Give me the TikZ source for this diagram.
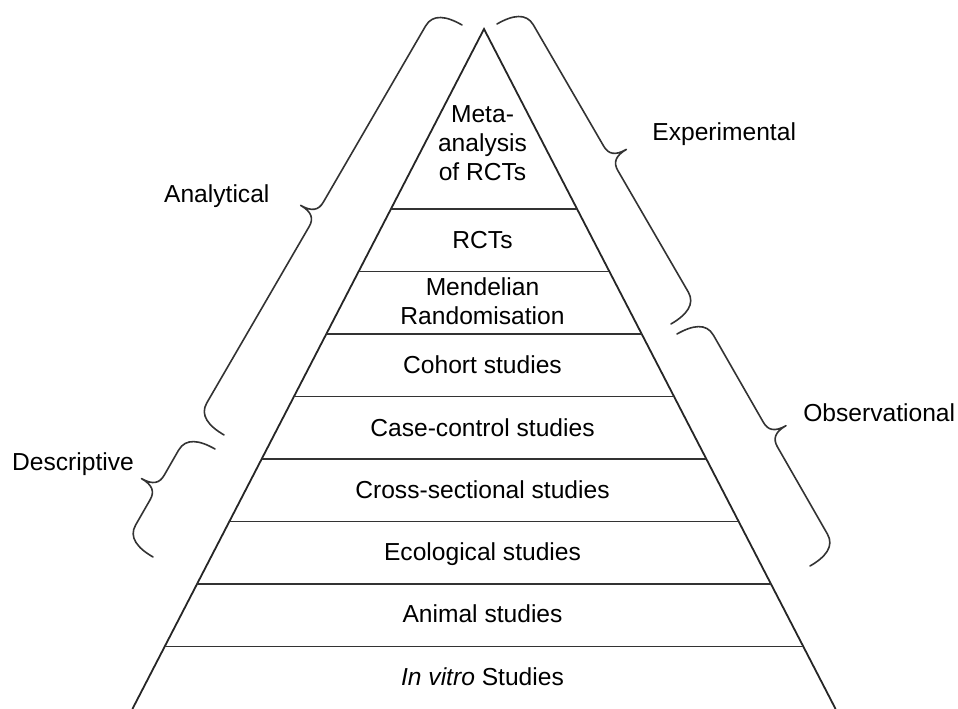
\documentclass[tikz,border=0pt]{standalone}
\usepackage{fontspec}
\setmainfont{Liberation Sans}
\usetikzlibrary{calc}

\tikzset{
  pyr/.style={line width=1.8pt, draw=black!85, line join=miter},
  bandline/.style={line width=1.8pt, draw=black!80},
  bracestroke/.style={line width=1.6pt, draw=black!80, line cap=round, line join=round},
  level/.style={font=\fontsize{24.6}{29}\selectfont, align=center, inner sep=0pt},
  sidelabel/.style={font=\fontsize{24.6}{29}\selectfont, inner sep=0pt, anchor=base},
}

% Curly brace from coordinate #1 to coordinate #2; #3 = 1 or -1 picks the side of the tip.
\newcommand\curlybrace[3]{%
  \path let \p1=($(#2)-(#1)$) in
    \pgfextra{%
      \pgfmathsetmacro\cbA{atan2(\y1,\x1)}%
      \pgfmathsetmacro\cbL{veclen(\x1/10,\y1/10)*10}%
      \global\let\cbangle\cbA
      \global\let\cblength\cbL};
  \begin{scope}[shift={(#1)}, rotate=\cbangle, yscale=#3, x=1pt, y=1pt]
    \pgfmathsetmacro\cbM{\cblength/2}
    \draw[bracestroke] (0,0) .. controls (0,18) and (5,31) .. (19,31)
      -- (\cbM-14,31) .. controls (\cbM-5,31) and (\cbM,36) .. (\cbM,49)
      .. controls (\cbM,36) and (\cbM+5,31) .. (\cbM+14,31)
      -- (\cblength-19,31) .. controls (\cblength-5,31) and (\cblength,18) .. (\cblength,0);
  \end{scope}}

\begin{document}
\begin{tikzpicture}[x=1pt, y=-1pt]
  \useasboundingbox (0,0) rectangle (958,709);

  % pyramid outline
  \coordinate (apex) at (484,29);
  \coordinate (bl) at (132.4,709);
  \coordinate (br) at (835.6,709);
  \draw[pyr] (bl) -- (apex) -- (br);

  % horizontal divisions between the levels
  \foreach \f [count=\i] in {0.26471,0.35662,0.44853,0.54044,0.63235,0.72426,0.81618,0.90809}{
    \coordinate (l\i) at ($(apex)!\f!(bl)$);
    \coordinate (r\i) at ($(apex)!\f!(br)$);
    \draw[bandline] (l\i) -- (r\i);
  }

  % level labels
  \node[level, anchor=north] (meta) at (482.5,105.5) {Meta-\\analysis\\of RCTs};
  \node[level, anchor=base] (rct) at (482.5,248) {RCTs};
  \node[level, anchor=north] (mr) at (482.5,277.5) {Mendelian\\Randomisation};
  \node[level, anchor=base] (cohort) at (482.5,373.5) {Cohort studies};
  \node[level, anchor=base] (cc) at (482.5,436) {Case-control studies};
  \node[level, anchor=base] (cs) at (482.5,498.3) {Cross-sectional studies};
  \node[level, anchor=base] (eco) at (482.5,560.3) {Ecological studies};
  \node[level, anchor=base] (animal) at (482.5,622) {Animal studies};
  \node[level, anchor=base] (vitro) at (482.5,685) {\textit{In vitro} Studies};

  % brace end points
  \coordinate (anaA) at (462,25);
  \coordinate (anaB) at (224,435);
  \coordinate (desA) at (215,449);
  \coordinate (desB) at (153,557);
  \coordinate (expA) at (497,24);
  \coordinate (expB) at (671,324);
  \coordinate (obsA) at (677,334);
  \coordinate (obsB) at (810,566);

  \curlybrace{anaA}{anaB}{-1}
  \curlybrace{desA}{desB}{-1}
  \curlybrace{expA}{expB}{1}
  \curlybrace{obsA}{obsB}{1}

  % group labels
  \node[sidelabel] (analytical) at (216.8,202.3) {Analytical};
  \node[sidelabel] (descriptive) at (73,470) {Descriptive};
  \node[sidelabel] (experimental) at (724.2,140.7) {Experimental};
  \node[sidelabel] (observational) at (879.2,421.7) {Observational};
\end{tikzpicture}
\end{document}
